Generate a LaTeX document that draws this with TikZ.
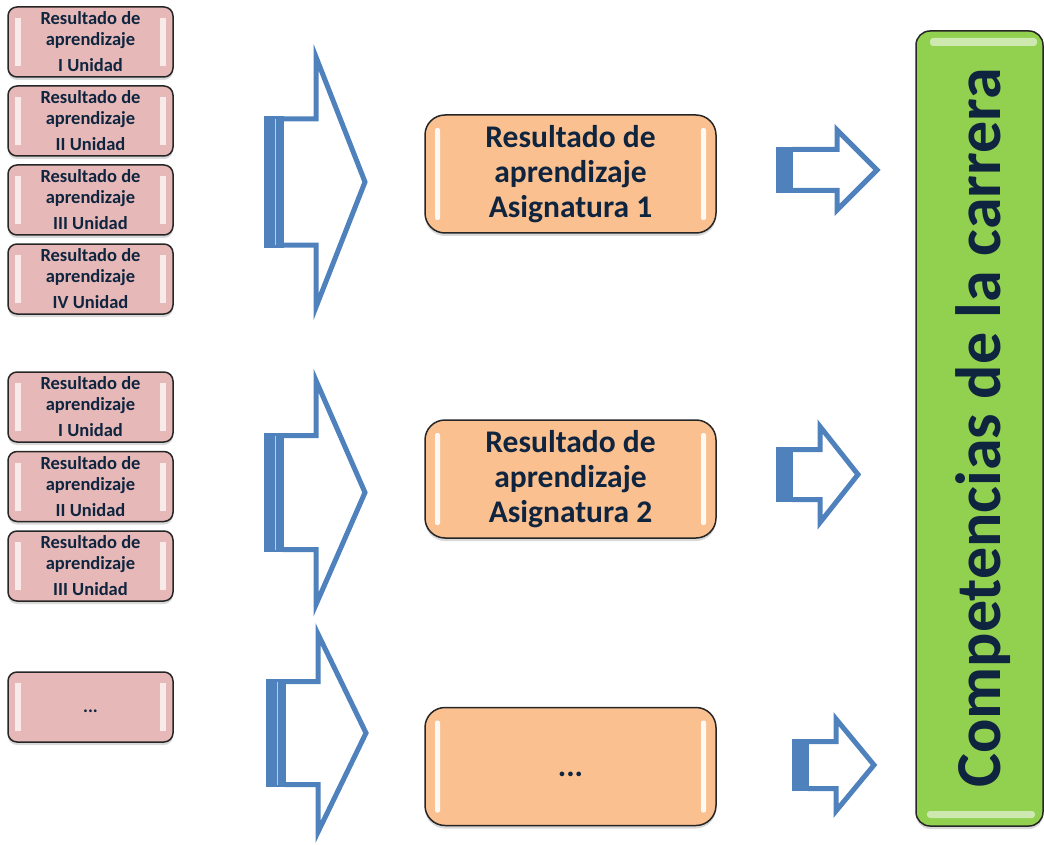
\documentclass[tikz,border=0pt]{standalone}
\usepackage{fontspec}
\newfontfamily\calibri{Carlito}
\usetikzlibrary{positioning,calc,shadows}
\definecolor{navy}{HTML}{0F243E}
\definecolor{pinkbox}{HTML}{E6B9B8}
\definecolor{orangebox}{HTML}{FAC090}
\definecolor{greenbar}{HTML}{92D050}
\definecolor{arrowblue}{HTML}{4F81BD}
\newcommand \mydrawarrow[8][20]
{
\fill[arrowblue] (#2,{#5-#6-2.5}) rectangle ({#2+#1},{#5+#6+2.5});                          % bar
\draw[white,opacity=#8,line width=0.7pt] ({#2+0.55*#1},{#5-#6}) -- ({#2+0.55*#1},{#5+#6});  % stripe
\draw[arrowblue,line width=5pt,line join=miter]
  ({#2+#1-1},{#5-#6}) -- (#3,{#5-#6}) -- (#3,{#5-#7}) -- (#4,#5)
  -- (#3,{#5+#7}) -- (#3,{#5+#6}) -- ({#2+#1-1},{#5+#6});
}
\tikzset{
  glossbox/.style={draw=black!85, line width=1.5pt, inner sep=0pt, align=center, text=navy,
    drop shadow={shadow xshift=0pt, shadow yshift=-3pt, opacity=0.3}},
  unitbox/.style={glossbox, fill=pinkbox, rounded corners=9pt,
    minimum width=165pt, minimum height=70pt,
    font=\calibri\bfseries\fontsize{18.5}{21}\selectfont,
    path picture={
      \fill[white,opacity=0.7,sharp corners] ([shift={(7pt,-11pt)}]path picture bounding box.north west)
        rectangle ([shift={(13pt,11pt)}]path picture bounding box.south west);
      \fill[white,opacity=0.7,sharp corners] ([shift={(-13pt,-11pt)}]path picture bounding box.north east)
        rectangle ([shift={(-7pt,11pt)}]path picture bounding box.south east);}},
  asigbox/.style={glossbox, fill=orangebox, rounded corners=20pt,
    minimum width=291pt, minimum height=118pt,
    font=\calibri\bfseries\fontsize{31.5}{35}\selectfont,
    path picture={
      \fill[white,opacity=0.9,rounded corners=2pt] ([shift={(10pt,-13pt)}]path picture bounding box.north west)
        rectangle ([shift={(15pt,13pt)}]path picture bounding box.south west);
      \fill[white,opacity=0.9,rounded corners=2pt] ([shift={(-15pt,-13pt)}]path picture bounding box.north east)
        rectangle ([shift={(-10pt,13pt)}]path picture bounding box.south east);}},
  carrerabox/.style={glossbox, fill=greenbar, rounded corners=14pt,
    minimum width=127pt, minimum height=795pt,
    path picture={
      \fill[white,opacity=0.55,rounded corners=3pt] ([shift={(14pt,-7pt)}]path picture bounding box.north west)
        rectangle ([shift={(-6pt,-15pt)}]path picture bounding box.north east);
      \fill[white,opacity=0.55,rounded corners=3pt] ([shift={(11pt,8pt)}]path picture bounding box.south west)
        rectangle ([shift={(-8pt,15pt)}]path picture bounding box.south east);}}
}
\begin{document}
\begin{tikzpicture}[x=1pt, y=-1pt, line join=round]
\useasboundingbox (0,0) rectangle (1044,845);
% results of each unit
\node[unitbox] (u11) at (90.5,42) {Resultado de\\aprendizaje\\[5pt]I Unidad};
\node[unitbox, below=7.5pt of u11] (u12) {Resultado de\\aprendizaje\\[5pt]II Unidad};
\node[unitbox, below=7.5pt of u12] (u13) {Resultado de\\aprendizaje\\[5pt]III Unidad};
\node[unitbox, below=7.5pt of u13] (u14) {Resultado de\\aprendizaje\\[5pt]IV Unidad};
\node[unitbox] (u21) at (90.5,407) {Resultado de\\aprendizaje\\[5pt]I Unidad};
\node[unitbox, below=8pt of u21] (u22) {Resultado de\\aprendizaje\\[5pt]II Unidad};
\node[unitbox, below=8pt of u22] (u23) {Resultado de\\aprendizaje\\[5pt]III Unidad};
\node[unitbox] (u31) at (90.5,707) {\vphantom{A}...};
% results of each subject
\node[asigbox] (a1) at (570.5,174) {Resultado de\\aprendizaje\\Asignatura 1};
\node[asigbox] (a2) at (570.5,479) {Resultado de\\aprendizaje\\Asignatura 2};
\node[asigbox] (a3) at (570.5,766.5) {\vphantom{A}...};
% career
\node[carrerabox] (carrera) at (979.5,428.5) {};
\node[rotate=90, text=navy, font=\calibri\bfseries\fontsize{64}{70}\selectfont]
  (carreratxt) at (983,428) {Competencias de la carrera};
% arrows
\mydrawarrow{264}{316}{365}{182}{63}{125}{0.6}
\mydrawarrow{264}{316}{365}{492.5}{57}{112}{0.6}
\mydrawarrow{266}{318}{366}{733}{51.5}{99}{0.6}
\mydrawarrow[17]{776}{837}{877}{170}{20.5}{40}{0}
\mydrawarrow[17]{776}{820}{858}{474.5}{25}{48}{0}
\mydrawarrow[17]{792}{836}{874}{765}{23.5}{46}{0}
\end{tikzpicture}
\end{document}
